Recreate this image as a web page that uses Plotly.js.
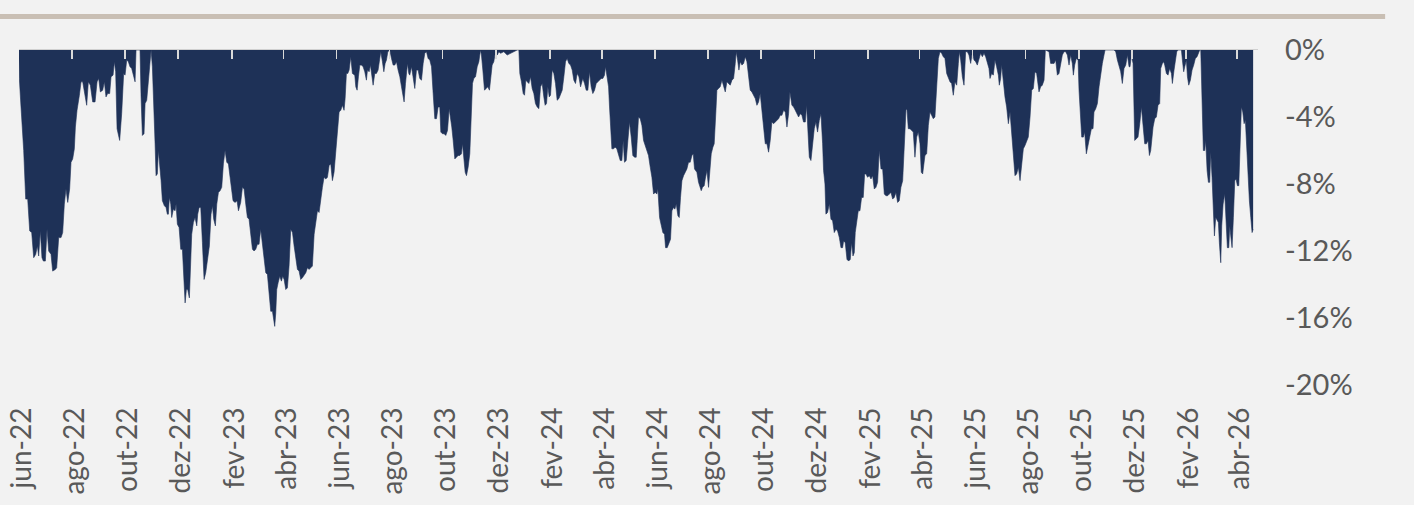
<!DOCTYPE html>
<html>
<head>
<meta charset="utf-8">
<script src="https://cdn.plot.ly/plotly-3.0.1.min.js"></script>
<style>
  html, body { margin: 0; padding: 0; background: #f2f2f2; }
  #chart { width: 1414px; height: 505px; }
</style>
</head>
<body>
<div id="chart"></div>
<script>
// Start of the series (day 0)
const startDate = '2022-06-01';

// Day offsets from startDate
const dayOffsets = [
  0, 0.4, 2.3, 5.4, 7.7, 10.0, 12.3, 14.6, 16.9, 19.2,
  21.1, 22.6, 24.5, 26.4, 28.0, 30.3, 32.2, 34.1, 36.8, 38.7,
  41.8, 43.3, 45.6, 48.3, 50.2, 52.1, 54.0, 56.0, 58.2, 59.8,
  61.7, 63.6, 64.8, 66.7, 69.4, 71.3, 73.2, 75.9, 77.8, 79.7,
  82.0, 84.7, 87.4, 89.7, 91.6, 93.5, 96.2, 98.1, 100.0, 101.9,
  104.2, 105.8, 108.1, 109.6, 111.1, 112.7, 115.7, 118.0, 120.3,
  121.9, 123.8, 125.7, 127.6, 129.5, 131.4, 133.4, 134.5, 139.1, 140.3,
  141.8, 143.7, 144.9, 146.8, 148.7, 150.6, 151.8, 153.3, 154.8, 156.4,
  157.5, 159.0, 160.2, 162.1, 163.3, 164.8, 167.1, 169.0, 170.5, 171.7,
  172.8, 174.4, 175.5, 177.4, 179.4, 180.5, 182.0, 184.0, 185.9, 187.8,
  189.3, 190.9, 192.4, 193.9, 195.8, 197.0, 198.5, 200.4, 202.3, 204.3,
  205.4, 207.0, 208.9, 210.8, 212.7, 214.6, 216.9, 218.8, 220.7, 222.3,
  223.8, 225.7, 227.3, 229.2, 231.1, 233.0, 234.9, 236.8, 238.8, 240.7,
  242.6, 244.5, 246.0, 248.3, 250.6, 252.2,
  254.8, 256.8, 258.7, 260.6, 262.5, 264.4, 266.3, 268.3, 270.2, 272.1,
  274.0, 275.9, 277.8, 279.8, 281.7, 283.6, 285.5, 287.4, 289.3, 291.3,
  292.4, 293.9, 295.1, 296.2, 297.8, 299.7, 301.6, 303.1, 304.7, 306.6,
  308.5, 310.4, 312.3, 314.3, 316.2, 318.1, 320.0, 321.9, 323.8, 325.7,
  327.7, 329.6, 331.5, 333.4, 335.3, 337.2, 339.2, 341.1, 343.0, 344.9,
  346.8, 348.7, 350.6, 352.6, 354.5, 356.4, 358.3, 360.2, 362.1, 364.1,
  366.0, 367.9, 369.8, 371.7, 373.6, 374.8, 376.3, 377.9, 379.4, 381.3,
  383.2,
  385.9, 387.1, 388.6, 390.1, 391.7, 393.6, 395.5, 397.4, 399.3, 400.5,
  402.4, 403.9, 405.8, 407.0, 408.9, 410.8, 412.7, 414.7, 415.8, 417.7,
  419.3, 420.8, 422.3, 423.9, 426.2, 428.1, 430.0, 431.9, 433.8, 435.7,
  437.7, 439.6, 441.5, 442.6, 444.2, 445.3, 446.5, 448.0, 449.1, 451.1,
  453.0, 454.9, 456.8, 458.7, 460.6, 462.6, 464.5, 466.4, 468.3, 470.2,
  472.1, 474.1, 476.0, 477.9, 479.8, 481.7, 483.6, 484.8, 486.7, 488.6,
  490.5, 492.5, 494.4, 495.9, 497.4, 499.0, 500.9, 502.8, 504.7, 506.6,
  508.5, 509.7, 511.2, 512.8, 514.3,
  516.2, 518.1, 519.7, 521.2, 522.7, 524.7, 526.6, 528.5, 530.4, 531.5,
  533.1, 535.0, 536.9, 538.8, 540.7, 541.9, 543.8, 545.7, 547.6, 549.6,
  551.5, 553.4, 557.2, 561.1, 564.9, 568.7, 572.6, 574.5, 575.6, 577.5,
  579.5, 581.0, 582.5, 584.1, 586.0, 587.9, 589.8, 591.7, 593.6, 595.5,
  597.5, 599.4, 601.3, 603.2, 604.7, 606.3, 607.8, 609.4, 610.9, 612.8,
  614.7, 616.6, 618.5, 620.5, 622.4, 624.3, 626.2, 628.1, 630.0, 631.9,
  633.9, 635.8, 637.7, 639.6, 641.5, 643.5, 645.4,
  648.0, 650.0, 651.9, 653.8, 655.7, 657.6, 659.5, 661.5, 663.4, 665.3,
  667.2, 669.1, 671.0, 672.9, 674.1, 676.0, 677.6, 678.7, 679.9, 681.4,
  683.3, 685.2, 687.1, 689.1, 691.0, 692.9, 694.4, 695.9, 697.9, 699.8,
  701.7, 703.6, 705.5, 707.4, 709.4, 710.5, 712.0, 714.0, 715.9, 717.8,
  719.7, 721.6, 723.5, 725.5, 727.4, 729.3, 731.2, 733.1, 734.3, 736.2,
  738.1, 740.0, 741.9, 743.1, 745.0, 746.9, 748.8, 750.4, 752.3, 753.8,
  755.4, 757.3, 758.8, 760.3, 761.9, 763.8, 765.7, 767.6, 769.5, 771.4,
  773.4, 774.9, 776.4,
  779.1, 781.0, 782.9, 784.1, 785.6, 787.5, 788.7, 790.6, 792.5, 794.4,
  795.6, 797.5, 799.0, 801.0, 802.1, 804.0, 805.9, 807.9, 809.8, 811.7,
  813.6, 815.5, 817.4, 819.4, 821.3, 823.2, 824.3, 825.9, 827.4, 828.9,
  830.9, 832.8, 834.7, 836.6, 838.5, 840.4, 842.3, 844.3, 846.2, 848.1,
  850.0, 851.9, 853.8, 855.8, 857.7, 859.6, 861.5, 863.4, 865.3, 867.3,
  869.2, 871.1, 873.0, 874.9, 876.8, 878.8, 880.7, 882.6, 884.5, 886.0,
  888.3, 890.3, 892.2, 894.1, 896.0, 897.9, 899.8, 901.7, 903.7, 905.2,
  907.5,
  908.3, 910.2, 912.1, 914.0, 915.9, 917.8, 919.8, 921.7, 923.6, 924.7,
  926.3, 927.4, 929.3, 931.3, 933.2, 935.1, 937.0, 938.9, 940.8, 942.8,
  944.7, 946.6, 947.7, 949.6, 951.6, 953.5, 955.4, 956.9, 958.5, 960.0,
  961.1, 962.7, 964.6, 966.5, 968.4, 970.3, 971.9, 973.4, 975.3, 977.2,
  979.2, 981.1, 983.0, 984.9, 986.8, 988.7, 990.7, 992.6, 994.5, 996.4,
  998.3, 1000.2, 1002.2, 1004.1, 1006.0, 1007.9, 1009.8, 1011.7, 1013.6, 1015.6,
  1017.5, 1019.4, 1020.5, 1022.1, 1024.0, 1025.9, 1027.8, 1029.7, 1031.7, 1033.6,
  1035.5, 1037.0, 1038.6,
  1041.2, 1043.2, 1045.1, 1047.0, 1048.9, 1050.8, 1052.7, 1054.7, 1056.6, 1058.5,
  1060.4, 1062.3, 1064.2, 1066.2, 1068.1, 1070.0, 1071.9, 1073.8, 1075.7, 1077.7,
  1079.6, 1080.7, 1082.3, 1084.2, 1086.1, 1088.0, 1089.9, 1091.8, 1093.8, 1095.7,
  1097.6, 1099.5, 1101.4, 1103.3, 1105.2, 1107.2, 1109.1, 1111.0, 1112.9, 1114.8,
  1116.0, 1117.9, 1119.8, 1121.7, 1123.6, 1125.6, 1126.7, 1128.2, 1129.4, 1131.3,
  1133.2, 1135.1, 1137.1, 1139.0, 1140.9, 1142.8, 1144.7, 1146.6, 1148.6, 1150.5,
  1152.4, 1154.3, 1156.2, 1158.1, 1160.0, 1162.0, 1163.9, 1165.8, 1167.7, 1169.6,
  1172.3, 1174.2, 1176.1, 1178.1, 1179.6, 1183.8, 1185.7, 1187.6, 1189.6, 1191.5,
  1193.4, 1195.3, 1197.2, 1199.1, 1201.1, 1203.0, 1204.9, 1206.8, 1208.7, 1210.6,
  1211.8, 1213.3, 1215.2, 1217.2, 1218.3, 1220.2, 1221.4, 1223.3, 1224.8, 1226.7,
  1228.7, 1230.6, 1232.5, 1234.4, 1235.5, 1237.5, 1239.4, 1241.3, 1243.2, 1245.1,
  1247.0, 1248.2, 1258.5, 1260.5, 1262.4, 1264.3, 1266.2, 1268.1, 1270.0, 1272.0,
  1273.9, 1275.8, 1276.9, 1278.5, 1280.4, 1282.3, 1284.2, 1286.1, 1288.1, 1290.0,
  1291.9, 1293.8, 1295.7, 1297.6, 1299.2, 1300.7,
  1303.4, 1305.3, 1307.2, 1309.1, 1311.0, 1312.2, 1314.1, 1315.6, 1316.8, 1318.7,
  1320.6, 1322.5, 1324.5, 1325.6, 1327.5, 1329.1, 1330.6, 1332.1, 1336.0, 1337.1,
  1338.6, 1339.8, 1341.7, 1342.9, 1344.4, 1346.3, 1348.2, 1350.1, 1352.0, 1354.0,
  1355.9, 1357.0, 1358.2, 1359.7, 1361.2, 1362.8, 1363.9, 1365.5, 1367.0, 1368.5,
  1369.7, 1371.2, 1372.7, 1373.9, 1375.4, 1377.0, 1378.5, 1379.6, 1381.2, 1382.3,
  1383.9, 1385.8, 1387.3, 1388.8, 1390.4, 1391.5, 1392.7, 1394.2, 1395.7, 1397.3,
  1398.8, 1400.3, 1401.9, 1403.4, 1404.9, 1406.5, 1408.0, 1409.5, 1411.1, 1412.6,
  1414.1, 1415.7, 1417.2, 1418.4
];

// Drawdown in percent
const drawdownPct = [
  -0.5, -1.7, -3.4, -6.0, -8.9, -8.9, -10.8, -10.9, -12.4, -12.2,
  -11.7, -12.3, -10.8, -12.4, -12.6, -12.6, -10.7, -12.0, -12.2, -13.2,
  -13.1, -13.0, -11.2, -11.2, -10.9, -9.2, -8.3, -9.1, -8.3, -6.7,
  -6.5, -5.9, -4.6, -3.6, -2.7, -1.9, -1.9, -2.9, -3.3, -1.9,
  -2.1, -3.1, -3.1, -1.9, -1.7, -2.5, -2.4, -1.9, -2.8, -2.6,
  -2.6, -1.6, -1.5, -0.7, -1.3, -4.7, -5.4, -3.8, -1.4,
  -1.5, -0.6, -0.7, -1.0, -1.1, -1.6, -1.9, 0, 0, -2.8,
  -5.1, -5.0, -3.2, -3.0, -2.0, -0.6, 0, -1.0, -2.8, -5.6,
  -7.5, -7.4, -6.0, -7.0, -7.8, -9.0, -9.3, -9.4, -9.8, -9.8,
  -8.8, -9.2, -10.0, -9.5, -9.6, -9.2, -10.4, -10.6, -11.9, -11.9,
  -13.7, -15.1, -14.3, -14.3, -14.8, -13.1, -11.0, -10.3, -10.0, -10.5,
  -9.8, -9.4, -9.4, -11.5, -13.7, -13.3, -12.5, -11.7, -9.8, -9.3,
  -10.1, -10.5, -9.2, -8.5, -8.4, -8.2, -6.8, -6.0, -6.7, -6.8,
  -7.6, -8.4, -9.0, -9.1, -9.0, -9.6,
  -9.1, -8.2, -8.3, -9.2, -10.0, -10.1, -10.9, -11.9, -12.0, -11.9,
  -11.6, -11.6, -10.7, -11.7, -12.5, -13.3, -13.4, -14.5, -15.6, -15.6,
  -15.9, -16.5, -15.7, -14.3, -13.9, -13.5, -13.8, -13.5, -13.7, -14.3,
  -14.2, -12.9, -10.7, -10.9, -11.7, -12.3, -13.1, -13.2, -13.7, -13.6,
  -13.4, -13.3, -13.0, -13.1, -13.0, -12.9, -11.0, -10.3, -9.6, -9.7,
  -8.8, -8.2, -7.6, -7.7, -7.6, -6.9, -6.8, -7.8, -7.3, -6.0,
  -5.0, -3.7, -3.6, -3.3, -3.6, -2.9, -1.4, -1.4, -1.2, -0.4,
  -1.4,
  -1.5, -2.2, -2.4, -1.6, -0.9, -0.9, -1.0, -1.3, -1.8, -1.2,
  -1.3, -0.9, -1.6, -2.1, -1.4, -1.4, -1.2, -0.4, -0.1, -0.7,
  -1.3, -0.8, -0.6, -0.1, 0, -0.5, -0.9, -0.9, -0.7, -1.2,
  -1.6, -2.2, -2.9, -3.1, -2.0, -1.3, -0.8, -1.4, -1.5, -1.0,
  -1.7, -2.3, -1.2, -1.2, -1.7, -1.8, -0.8, -0.2, -0.1, -0.5,
  -0.6, -1.0, -2.6, -4.1, -4.1, -3.4, -3.4, -4.9, -5.0, -5.0,
  -5.1, -4.8, -3.5, -4.0, -4.6, -5.4, -6.5, -6.4, -6.3, -6.3,
  -6.2, -5.6, -6.3, -7.3, -7.5,
  -7.0, -6.2, -3.4, -2.0, -1.7, -1.6, -1.0, -0.7, 0, -0.3,
  -1.2, -2.4, -2.3, -2.2, -2.4, -1.7, -0.9, -0.7, -0.1, -0.3,
  -0.1, -0.2, -0.1, -0.3, -0.2, -0.1, 0, 0, -1.4, -1.9,
  -2.6, -2.7, -1.8, -1.9, -2.0, -1.6, -2.3, -2.6, -3.2, -3.4,
  -3.5, -2.2, -2.0, -2.8, -3.3, -3.2, -2.2, -2.8, -2.7, -1.2,
  -1.4, -2.0, -3.0, -2.9, -2.7, -2.4, -1.6, -0.7, -0.5, -0.8,
  -0.9, -1.2, -1.8, -2.0, -1.4, -1.6, -2.2,
  -1.7, -2.0, -2.4, -2.4, -1.3, -2.2, -2.6, -2.4, -2.0, -1.9,
  -1.8, -1.7, -1.7, -1.5, -1.0, -1.6, -2.2, -3.4, -4.8, -5.9,
  -5.9, -5.8, -5.9, -6.3, -6.6, -6.6, -5.4, -6.7, -6.6, -5.4,
  -4.3, -5.2, -6.3, -6.4, -6.4, -5.4, -4.0, -4.1, -4.5, -5.4,
  -5.7, -5.9, -6.3, -7.0, -7.6, -8.6, -8.5, -8.6, -8.3, -10.0,
  -10.5, -10.9, -11.0, -11.8, -11.8, -11.5, -11.3, -9.6, -9.4, -9.5,
  -9.2, -9.9, -10.0, -8.8, -7.8, -7.5, -7.3, -7.1, -6.7, -6.7,
  -6.3, -6.2, -7.1,
  -7.3, -7.9, -8.2, -8.4, -8.2, -8.1, -7.7, -7.2, -8.2, -7.0,
  -6.2, -5.8, -5.6, -3.6, -2.4, -2.3, -2.2, -1.8, -2.2, -2.5,
  -1.9, -2.0, -2.1, -1.8, -1.7, -0.8, -0.1, -0.6, -1.2, -0.7,
  -0.9, -0.8, -0.4, -0.7, -1.4, -2.4, -2.5, -2.7, -2.9, -3.3,
  -3.1, -2.6, -3.7, -4.4, -5.6, -5.6, -6.1, -5.4, -4.3, -4.4,
  -4.3, -4.2, -4.1, -3.9, -3.9, -3.6, -3.7, -4.6, -3.8, -2.5,
  -3.3, -3.4, -3.6, -3.8, -4.0, -3.8, -3.9, -4.3, -4.3, -3.3,
  -5.8,
  -6.4, -6.6, -5.6, -4.7, -4.3, -4.9, -4.2, -3.8, -5.6, -7.2,
  -8.0, -9.8, -9.7, -9.2, -10.1, -10.2, -10.9, -10.7, -10.8, -11.2,
  -11.8, -11.8, -11.4, -11.5, -12.5, -12.6, -12.5, -11.5, -12.3, -12.1,
  -10.9, -10.3, -9.6, -9.6, -8.8, -8.8, -7.4, -7.4, -7.6, -7.5,
  -7.7, -7.5, -8.3, -8.2, -7.9, -6.0, -7.1, -7.1, -8.6, -8.7,
  -8.7, -8.6, -8.5, -8.9, -8.8, -8.5, -9.1, -9.0, -8.2, -7.8,
  -6.0, -3.6, -3.5, -4.7, -4.7, -4.8, -4.9, -6.4, -5.2, -4.9,
  -5.6, -7.3, -7.4,
  -6.3, -6.2, -4.5, -3.7, -3.9, -4.1, -4.0, -2.0, -0.5, -0.1,
  -0.2, -0.4, -0.5, -1.4, -1.7, -1.9, -2.0, -2.7, -1.9, -2.1,
  -0.8, -0.1, -0.6, -1.6, -2.1, -0.1, -0.1, -0.3, -0.8, -0.1,
  -0.6, -0.7, -0.9, -0.6, -0.2, -0.4, -0.2, -0.4, -0.7, -1.1,
  -1.7, -1.4, -1.5, -0.6, -1.0, -1.5, -2.1, -1.7, -0.9, -2.0,
  -2.8, -3.4, -4.4, -3.7, -5.0, -6.3, -7.5, -7.4, -7.0, -7.8,
  -6.6, -5.9, -5.7, -5.5, -5.2, -4.0, -2.4, -2.3, -1.3, -1.4,
  -2.5, -2.2, -2.1, -1.8, 0, -0.1, -0.8, -0.8, -0.8, -0.6,
  -1.5, -1.4, -0.9, -0.3, -0.1, -0.1, -0.3, -0.9, -0.3, -0.8,
  -1.5, -0.9, -0.5, -0.6, -2.4, -4.2, -5.2, -5.2, -4.9, -6.2,
  -5.6, -5.2, -4.7, -4.7, -3.7, -3.5, -3.2, -2.2, -1.4, -0.8,
  -0.3, 0, 0, -0.1, -0.6, -1.0, -1.3, -2.0, -1.1, -0.9,
  -0.3, -1.0, -1.0, -0.3, -0.8, -5.4, -5.3, -5.2, -4.4, -3.4,
  -4.5, -5.6, -5.6, -5.4, -6.3, -6.0,
  -4.6, -4.1, -4.0, -3.3, -3.2, -1.1, -0.8, -0.7, -0.9, -1.4,
  -1.5, -1.1, -1.4, -2.0, -1.2, -0.5, -0.1, 0, 0, -0.6,
  -1.3, -1.0, -0.6, -1.6, -2.1, -1.8, -1.2, -0.9, -0.5, -0.4,
  -0.2, 0, 0, -3.0, -6.0, -6.0, -5.4, -7.2, -7.9, -7.9,
  -6.1, -7.6, -9.8, -11.1, -10.0, -10.2, -10.3, -11.5, -12.7, -10.5,
  -9.2, -8.6, -10.1, -11.8, -11.8, -10.5, -11.1, -11.8, -10.0, -7.8,
  -7.7, -8.1, -8.1, -6.0, -3.4, -3.7, -4.4, -4.2, -6.0, -7.6,
  -9.0, -10.0, -10.9, -10.7
];

// X axis ticks (every two months) and their labels
const tickDates = [
  '2022-06-01', '2022-08-01', '2022-10-01', '2022-12-01',
  '2023-02-01', '2023-04-01', '2023-06-01', '2023-08-01', '2023-10-01', '2023-12-01',
  '2024-02-01', '2024-04-01', '2024-06-01', '2024-08-01', '2024-10-01', '2024-12-01',
  '2025-02-01', '2025-04-01', '2025-06-01', '2025-08-01', '2025-10-01', '2025-12-01',
  '2026-02-01', '2026-04-01'
];
const tickLabels = [
  'jun-22', 'ago-22', 'out-22', 'dez-22',
  'fev-23', 'abr-23', 'jun-23', 'ago-23', 'out-23', 'dez-23',
  'fev-24', 'abr-24', 'jun-24', 'ago-24', 'out-24', 'dez-24',
  'fev-25', 'abr-25', 'jun-25', 'ago-25', 'out-25', 'dez-25',
  'fev-26', 'abr-26'
];

// Y axis ticks
const yTickVals = [0, -4, -8, -12, -16, -20];
const yTickLabels = ['0%', '-4%', '-8%', '-12%', '-16%', '-20%'];

// Axis extent in days from startDate
const xRangeDays = [0, 1424];

if (dayOffsets.length !== drawdownPct.length) {
  console.error('length mismatch', dayOffsets.length, drawdownPct.length);
}

const t0 = Date.parse(startDate + 'T00:00:00Z');
function dayToDate(d) {
  return new Date(t0 + d * 86400000).toISOString().slice(0, 19).replace('T', ' ');
}
const xDates = dayOffsets.map(dayToDate);
const xRange = xRangeDays.map(dayToDate);

const navy = '#1e3157';
const textColor = '#595959';
const fontFamily = 'Lato, "Open Sans", sans-serif';

const traces = [
  {
    type: 'scatter',
    mode: 'lines',
    x: xDates,
    y: drawdownPct,
    fill: 'tozeroy',
    fillcolor: navy,
    line: { color: navy, width: 0.6 },
    hoverinfo: 'skip',
    showlegend: false
  },
  {
    type: 'scatter',
    mode: 'lines',
    x: [xDates[0]],
    y: [0],
    xaxis: 'x2',
    yaxis: 'y',
    line: { width: 0 },
    hoverinfo: 'skip',
    showlegend: false
  }
];

const layout = {
  width: 1414,
  height: 505,
  margin: { l: 19, r: 156, t: 50, b: 120, pad: 0 },
  paper_bgcolor: '#f2f2f2',
  plot_bgcolor: '#f2f2f2',
  showlegend: false,
  font: { family: fontFamily, color: textColor },
  xaxis: {
    type: 'date',
    range: xRange,
    tickmode: 'array',
    tickvals: tickDates,
    ticktext: tickLabels,
    tickangle: -90,
    ticks: '',
    showgrid: false,
    zeroline: false,
    showline: false,
    ticklabelstandoff: 16,
    ticklabelshift: 3,
    tickfont: { family: fontFamily, size: 28, color: textColor },
    fixedrange: true
  },
  xaxis2: {
    type: 'date',
    overlaying: 'x',
    side: 'top',
    anchor: 'y',
    range: xRange,
    tickmode: 'array',
    tickvals: tickDates,
    showticklabels: false,
    ticks: 'inside',
    ticklen: 9,
    tickwidth: 1.5,
    tickcolor: '#d9d9d9',
    showline: true,
    linecolor: '#d0d0d0',
    linewidth: 1.5,
    showgrid: false,
    zeroline: false,
    layer: 'above traces'
  },
  yaxis: {
    range: [-20, 0],
    side: 'right',
    tickmode: 'array',
    tickvals: yTickVals,
    ticktext: yTickLabels,
    ticks: '',
    showgrid: false,
    zeroline: false,
    showline: false,
    ticklabelstandoff: 26,
    tickfont: { family: fontFamily, size: 29, color: textColor },
    fixedrange: true
  },
  shapes: [
    {
      type: 'line',
      xref: 'paper', yref: 'paper',
      x0: -0.02, x1: 1.1026, y0: 1.1, y1: 1.1,
      line: { color: '#c9bfb4', width: 5 }
    }
  ]
};

Plotly.newPlot('chart', traces, layout, { displayModeBar: false, staticPlot: true });
</script>
</body>
</html>
